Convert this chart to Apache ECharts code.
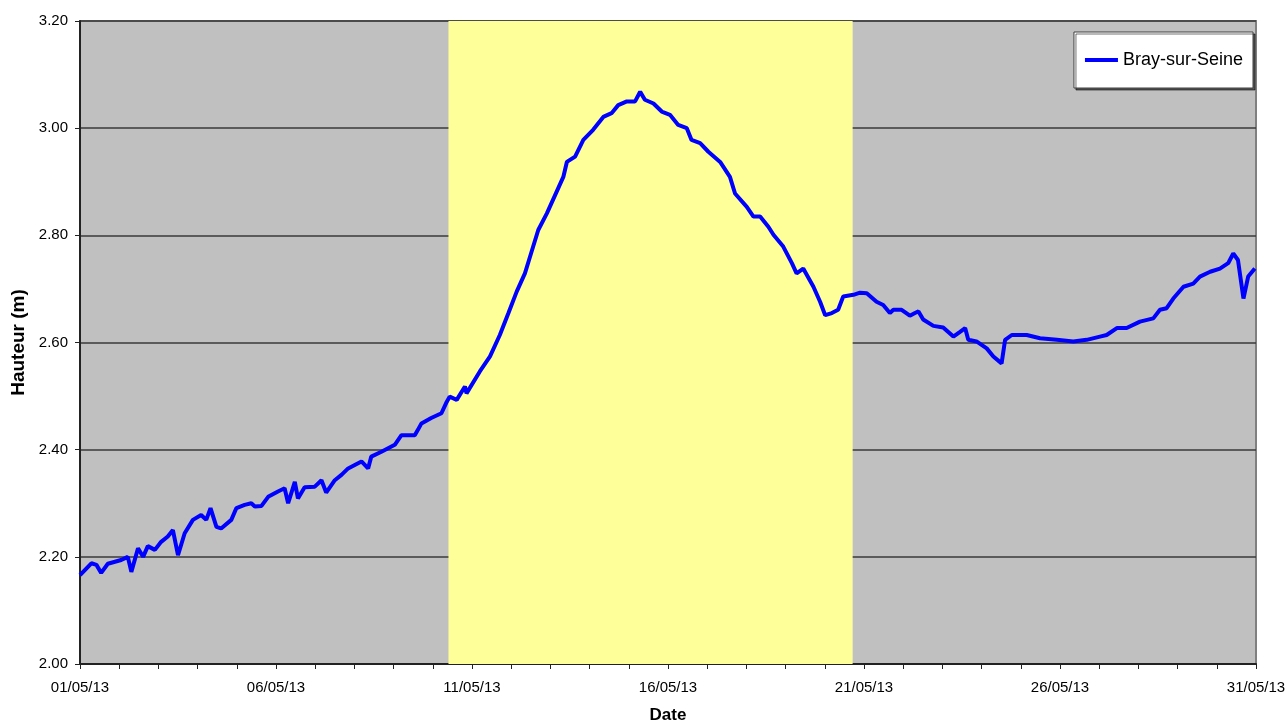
<!DOCTYPE html>
<html>
<head>
<meta charset="utf-8">
<script src="https://cdn.jsdelivr.net/npm/echarts@6/dist/echarts.min.js"></script>
<style>
html,body{margin:0;padding:0;background:#fff;}
#chart{width:1285px;height:722px;}
</style>
</head>
<body>
<div id="chart"></div>
<script>
// Tick labels (every 5 days from 01/05/13)
const dateLabels = ['01/05/13','06/05/13','11/05/13','16/05/13','21/05/13','26/05/13','31/05/13'];
const seriesName = 'Bray-sur-Seine';
// Highlighted period (days since 01/05/13 00:00)
const highlightStart = 9.40;
const highlightEnd = 19.71;
// Time in days since 01/05/13 00:00
const days = [
  0.00,0.29,0.42,0.54,0.71,1.05,1.22,1.31,1.48,1.61,1.73,1.91,2.07,2.24,2.37,2.50,2.67,2.88,3.09,3.22,
  3.33,3.48,3.60,3.86,3.99,4.20,4.37,4.46,4.63,4.80,5.05,5.22,5.31,5.48,5.56,5.73,5.99,6.16,6.28,6.50,
  6.67,6.84,7.18,7.35,7.43,7.69,8.03,8.20,8.54,8.62,8.71,8.96,9.22,9.34,9.43,
  9.61,9.82,9.86,10.20,10.46,10.71,10.93,11.14,11.35,11.48,11.69,11.91,12.12,12.33,12.42,12.63,12.84,
  13.09,13.35,13.56,13.73,13.95,14.16,14.29,14.41,14.63,14.84,15.05,15.26,15.48,15.60,15.82,16.03,16.33,
  16.58,16.71,17.01,17.18,17.35,17.56,17.69,17.94,18.16,18.28,18.45,18.71,18.88,19.01,19.18,19.34,19.47,19.73,
  19.90,20.07,20.32,20.49,20.66,20.75,20.96,21.17,21.30,21.39,21.51,21.77,22.02,22.28,22.45,22.58,22.66,
  22.87,23.13,23.30,23.51,23.60,23.77,24.15,24.49,24.92,25.34,25.68,26.02,26.19,26.45,26.70,27.04,27.38,
  27.55,27.72,27.89,28.15,28.40,28.57,28.83,29.08,29.29,29.42,29.54,29.68,29.80,29.97
];
// Water height (m)
const heights = [
  2.166,2.188,2.185,2.170,2.187,2.194,2.200,2.172,2.216,2.200,2.220,2.213,2.228,2.238,2.250,2.203,2.244,2.269,2.278,2.269,
  2.291,2.256,2.253,2.269,2.291,2.297,2.300,2.294,2.295,2.312,2.322,2.328,2.300,2.340,2.309,2.330,2.331,2.343,2.320,2.343,
  2.353,2.365,2.378,2.365,2.387,2.396,2.409,2.427,2.427,2.437,2.449,2.459,2.468,2.487,2.499,
  2.493,2.518,2.505,2.546,2.574,2.614,2.655,2.695,2.729,2.760,2.810,2.841,2.875,2.909,2.937,2.947,2.978,
  2.997,3.021,3.028,3.043,3.050,3.050,3.068,3.053,3.046,3.031,3.025,3.006,3.000,2.978,2.972,2.956,2.937,
  2.909,2.878,2.853,2.835,2.835,2.816,2.801,2.779,2.748,2.729,2.738,2.704,2.676,2.651,2.655,2.661,2.686,2.689,
  2.693,2.692,2.676,2.670,2.655,2.661,2.661,2.650,2.655,2.658,2.643,2.631,2.628,2.611,2.620,2.627,2.605,
  2.602,2.589,2.574,2.561,2.605,2.614,2.614,2.608,2.605,2.602,2.605,2.611,2.614,2.627,2.627,2.639,2.645,
  2.661,2.664,2.682,2.704,2.710,2.723,2.732,2.738,2.748,2.766,2.754,2.682,2.723,2.738
];

const FONT = "'Liberation Sans', Arial, sans-serif";
const chart = echarts.init(document.getElementById('chart'), null, {renderer: 'canvas'});
chart.setOption({
  animation: false,
  backgroundColor: '#ffffff',
  textStyle: {fontFamily: FONT},
  grid: {
    left: 80, right: 29, top: 21, bottom: 58,
    outerBoundsMode: 'none', containLabel: false,
    show: true, backgroundColor: '#C0C0C0', borderColor: '#808080', borderWidth: 2
  },
  legend: {
    data: [{name: seriesName, icon: 'rect'}],
    right: 32, top: 32,
    backgroundColor: '#ffffff',
    borderColor: '#404040', borderWidth: 1,
    padding: [19, 10, 19, 11],
    itemWidth: 33, itemHeight: 4, itemGap: 5,
    shadowColor: 'rgba(0,0,0,0.55)', shadowOffsetX: 2, shadowOffsetY: 2, shadowBlur: 0,
    textStyle: {fontFamily: FONT, fontSize: 18, color: '#000'}
  },
  xAxis: {
    type: 'value', min: 0, max: 30, interval: 1,
    name: 'Date', nameLocation: 'middle', nameGap: 43,
    nameTextStyle: {fontFamily: FONT, fontSize: 17, fontWeight: 'bold', color: '#000'},
    axisLine: {show: true, lineStyle: {color: '#222', width: 2}},
    axisTick: {show: true, length: 5, lineStyle: {color: '#222', width: 1}},
    axisLabel: {
      fontFamily: FONT, fontSize: 15, color: '#000', margin: 16, showMinLabel: true, showMaxLabel: true,
      formatter: function (v) { return (Math.round(v) % 5 === 0) ? dateLabels[Math.round(v) / 5] : ''; }
    },
    splitLine: {show: false}
  },
  yAxis: {
    type: 'value', min: 2.0, max: 3.2, interval: 0.2,
    name: 'Hauteur (m)', nameLocation: 'middle', nameGap: 52,
    nameTextStyle: {fontFamily: FONT, fontSize: 19, fontWeight: 'bold', color: '#000'},
    axisLine: {show: true, lineStyle: {color: '#222', width: 2}},
    axisTick: {show: true, length: 5, lineStyle: {color: '#222', width: 1}},
    axisLabel: {fontFamily: FONT, fontSize: 15, color: '#000', margin: 12,
      formatter: function (v) { return v.toFixed(2); }},
    splitLine: {show: true, lineStyle: {color: '#3a3a3a', width: 1.5}}
  },
  series: [{
    name: seriesName,
    type: 'line',
    symbol: 'none',
    data: days.map((d, i) => [d, heights[i]]),
    lineStyle: {color: '#0000FF', width: 4},
    itemStyle: {color: '#0000FF'},
    z: 5,
    markArea: {
      silent: true,
      itemStyle: {color: '#FFFF99', opacity: 1},
      data: [[{xAxis: highlightStart}, {xAxis: highlightEnd}]]
    }
  }]
});
</script>
</body>
</html>
